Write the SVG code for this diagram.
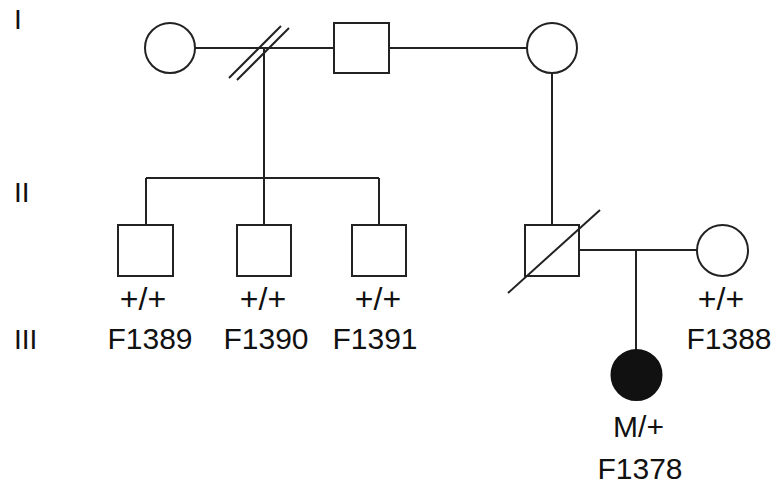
<svg xmlns="http://www.w3.org/2000/svg" width="776" height="486" viewBox="0 0 776 486">
  <style>
    .sym { fill: #ffffff; stroke: #222222; stroke-width: 2; }
    .aff { fill: #111111; stroke: #111111; stroke-width: 2; }
    .ln { fill: none; stroke: #222222; stroke-width: 2; }
    text { font-family: "Liberation Sans", Arial, Helvetica, sans-serif; font-size: 30px; fill: #111111; }
    .num { font-size: 28px; }
    .g { font-size: 32px; }
    .c { text-anchor: middle; }
  </style>
  <rect width="776" height="486" fill="#ffffff"/>

  <!-- generation numerals -->
  <g id="generations">
    <text class="num" x="14" y="29">I</text>
    <text class="num" x="14" y="202">II</text>
    <text class="num" x="14" y="349">III</text>
  </g>

  <!-- connectors -->
  <g id="connectors">
    <!-- generation I unions -->
    <line class="ln" x1="195" y1="48" x2="334" y2="48"/>
    <line class="ln" x1="389" y1="48" x2="527" y2="48"/>
    <!-- divorce marks -->
    <line class="ln" x1="229" y1="78" x2="281" y2="26"/>
    <line class="ln" x1="237" y1="80" x2="289" y2="28"/>
    <!-- first sibship -->
    <line class="ln" x1="264" y1="48" x2="264" y2="178"/>
    <line class="ln" x1="146" y1="178" x2="379" y2="178"/>
    <line class="ln" x1="146" y1="178" x2="146" y2="225"/>
    <line class="ln" x1="264" y1="178" x2="264" y2="225"/>
    <line class="ln" x1="379" y1="178" x2="379" y2="225"/>
    <!-- second union descent -->
    <line class="ln" x1="552" y1="73" x2="552" y2="225"/>
    <!-- generation II union and child -->
    <line class="ln" x1="579" y1="250" x2="697" y2="250"/>
    <line class="ln" x1="636" y1="250" x2="636" y2="350"/>
  </g>

  <!-- generation I -->
  <g id="I-1"><circle class="sym" cx="170" cy="48" r="25"/></g>
  <g id="I-2"><rect class="sym" x="334" y="23" width="55" height="50"/></g>
  <g id="I-3"><circle class="sym" cx="552" cy="48" r="25"/></g>

  <!-- generation II / III -->
  <g id="F1389">
    <rect class="sym" x="118" y="225" width="55" height="51"/>
    <text class="c g" x="143" y="310">+/+</text>
    <text class="c" x="150" y="349">F1389</text>
  </g>
  <g id="F1390">
    <rect class="sym" x="237" y="225" width="54" height="51"/>
    <text class="c g" x="263" y="310">+/+</text>
    <text class="c" x="266" y="349">F1390</text>
  </g>
  <g id="F1391">
    <rect class="sym" x="352" y="225" width="54" height="51"/>
    <text class="c g" x="378" y="310">+/+</text>
    <text class="c" x="375" y="349">F1391</text>
  </g>
  <g id="II-deceased">
    <rect class="sym" x="525" y="225" width="54" height="51"/>
    <line class="ln" x1="508" y1="293" x2="600" y2="210"/>
  </g>
  <g id="F1388">
    <circle class="sym" cx="722.5" cy="250.5" r="25.5"/>
    <text class="c g" x="721" y="310">+/+</text>
    <text class="c" x="729" y="349">F1388</text>
  </g>
  <g id="F1378">
    <circle class="aff" cx="636.5" cy="375" r="25"/>
    <text class="c" x="638.5" y="437">M/+</text>
    <text class="c" x="640" y="479">F1378</text>
  </g>
</svg>
